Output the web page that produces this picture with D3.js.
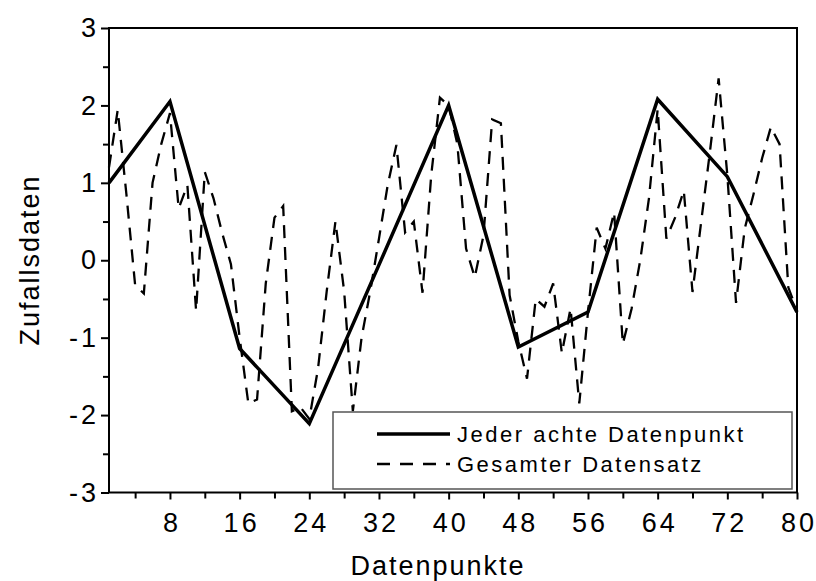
<!DOCTYPE html>
<html><head><meta charset="utf-8">
<script src="https://cdn.jsdelivr.net/npm/d3@7"></script>
<style>body{margin:0;background:#fff}svg{display:block}</style>
</head><body><svg id="c" width="816" height="581"></svg>
<script>
// Gesamter Datensatz (points 1..80)
const allValues = [
  1.2, 1.94, 0.85, -0.32, -0.43, 1.0, 1.5, 1.9, 0.67, 0.97,
  -0.65, 1.14, 0.8, 0.35, -0.05, -1.0, -1.85, -1.8, -0.3, 0.55,
  0.7, -1.95, -1.9, -2.05, -1.4, -0.4, 0.5, -0.4, -1.95, -1.0,
  -0.4, 0.28, 0.97, 1.49, 0.36, 0.5, -0.42, 1.1, 2.1, 2.0,
  1.5, 0.15, -0.22, 0.32, 1.82, 1.77, -0.45, -1.05, -1.53, -0.5,
  -0.6, -0.3, -1.2, -0.62, -1.85, -0.67, 0.42, 0.15, 0.62, -1.08,
  -0.63, 0.0, 0.8, 1.95, 0.28, 0.55, 0.9, -0.41, 0.5, 1.4,
  2.35, 1.1, -0.55, 0.41, 0.85, 1.32, 1.72, 1.5, -0.35, -0.65
];
// Jeder achte Datenpunkt
const eighthX = [1, 8, 16, 24, 32, 40, 48, 56, 64, 72, 80];
const eighthY = [1.0, 2.05, -1.14, -2.11, -0.06, 2.0, -1.12, -0.67, 2.08, 1.08, -0.67];

const xTicks = [8, 16, 24, 32, 40, 48, 56, 64, 72, 80];
const xMinorTicks = [4, 12, 20, 28, 36, 44, 52, 60, 68, 76];
const yTicks = [-3, -2, -1, 0, 1, 2, 3];
const yMinorTicks = [-2.5, -1.5, -0.5, 0.5, 1.5, 2.5];
const legendLabels = ["Jeder achte Datenpunkt", "Gesamter Datensatz"];
const xTitle = "Datenpunkte";
const yTitle = "Zufallsdaten";

const FONT = "'Liberation Sans', Arial, sans-serif";
const svg = d3.select('#c');
const L = 109, R = 797, T = 28, B = 492.5;
const x = d3.scaleLinear().domain([1, 80]).range([L, R]);
const y = d3.scaleLinear().domain([-3, 3]).range([B, T]);

// minor ticks
svg.append('g').attr('transform', `translate(0,${B})`)
  .call(d3.axisBottom(x).tickValues(xMinorTicks).tickSize(6).tickFormat(''))
  .call(g => g.select('.domain').remove())
  .selectAll('line').attr('stroke', '#000').attr('stroke-width', 2);
svg.append('g').attr('transform', `translate(${L},0)`)
  .call(d3.axisLeft(y).tickValues(yMinorTicks).tickSize(6).tickFormat(''))
  .call(g => g.select('.domain').remove())
  .selectAll('line').attr('stroke', '#000').attr('stroke-width', 2);

// major ticks
const gx = svg.append('g').attr('transform', `translate(0,${B})`)
  .call(d3.axisBottom(x).tickValues(xTicks).tickSize(7).tickPadding(13).tickFormat(d3.format('d')));
gx.select('.domain').remove();
gx.selectAll('line').attr('stroke', '#000').attr('stroke-width', 2);
gx.selectAll('text').attr('font-family', FONT).attr('font-size', 27).attr('fill', '#000')
  .attr('letter-spacing', 3).attr('dx', 1.5);

const gy = svg.append('g').attr('transform', `translate(${L},0)`)
  .call(d3.axisLeft(y).tickValues(yTicks).tickSize(8).tickPadding(2).tickFormat(d => d < 0 ? '-' + Math.abs(d) : String(d)));
gy.select('.domain').remove();
gy.selectAll('line').attr('stroke', '#000').attr('stroke-width', 2);
gy.selectAll('text').attr('font-family', FONT).attr('font-size', 27).attr('fill', '#000')
  .attr('letter-spacing', 3);

// frame
svg.append('rect').attr('x', L).attr('y', T).attr('width', R - L).attr('height', B - T)
  .attr('fill', 'none').attr('stroke', '#000').attr('stroke-width', 2);

// lines
const line = d3.line().x(d => x(d[0])).y(d => y(d[1]));
svg.append('path').datum(allValues.map((v, i) => [i + 1, v]))
  .attr('d', line).attr('fill', 'none').attr('stroke', '#000').attr('stroke-width', 2.3)
  .attr('stroke-dasharray', '13,9');
svg.append('path').datum(eighthX.map((v, i) => [v, eighthY[i]]))
  .attr('d', line).attr('fill', 'none').attr('stroke', '#000').attr('stroke-width', 3.5)
  .attr('stroke-linejoin', 'miter');

// legend
const lg = svg.append('g');
lg.append('rect').attr('x', 333).attr('y', 412).attr('width', 459).attr('height', 77)
  .attr('fill', '#fff').attr('stroke', '#555').attr('stroke-width', 1.5);
const rows = [
  { label: legendLabels[0], dash: null, w: 3.5, yy: 434 },
  { label: legendLabels[1], dash: '13,10', w: 2.3, yy: 464 }
];
rows.forEach(r => {
  lg.append('line').attr('x1', 377).attr('x2', 450).attr('y1', r.yy).attr('y2', r.yy)
    .attr('stroke', '#000').attr('stroke-width', r.w).attr('stroke-dasharray', r.dash);
  lg.append('text').attr('x', 457).attr('y', r.yy + 8).text(r.label)
    .attr('font-family', FONT).attr('font-size', 22).attr('letter-spacing', 2.5).attr('fill', '#000');
});

// titles
svg.append('text').attr('x', 438).attr('y', 575).attr('text-anchor', 'middle').text(xTitle)
  .attr('font-family', FONT).attr('font-size', 27).attr('letter-spacing', 2).attr('fill', '#000');
svg.append('text').attr('transform', `translate(39,260) rotate(-90)`).attr('text-anchor', 'middle').text(yTitle)
  .attr('font-family', FONT).attr('font-size', 27).attr('letter-spacing', 2).attr('fill', '#000');
</script></body></html>
